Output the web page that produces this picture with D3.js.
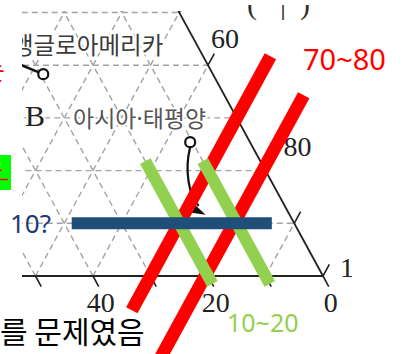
<!DOCTYPE html>
<html>
<head>
<meta charset="utf-8">
<script src="https://cdn.jsdelivr.net/npm/d3@7"></script>
<style>
  body { margin: 0; background: #fff; }
  svg { display: block; }
</style>
</head>
<body>
<div id="chart"></div>
<script>
// ternary coordinates: B = bottom axis, L = horizontal rows, R = 100 - B - L
const gridSteps = [10, 20, 30, 40, 50, 60, 70, 80, 90];
const bottomTicks = [0, 10, 20, 30, 40, 50, 60, 70, 80, 90];
const rightTicks = [10, 20, 30, 40, 50, 60, 70, 80, 90, 100];
const bottomLabels = [0, 20, 40];
const rightLabels = [60, 80, 100];

// region markers (B, L)
const regionNames = ["앵글로아메리카", ["아시아", "·", "태평양"]];
const regionB = [29.5, 10.4];
const regionL = [38.3, 25.4];
const arrowTip = [14.6, 11.6];

// hand drawn overlay marks
const redR = [70, 79.5];
const redL = [[-6.5, 41.7], [-16, 34.3]];
const greenB = [20, 10];
const greenL = [-1.5, 21.8];
const blueL = 10;
const blueB = [3.9, 38.7];

(function () {
    const width = 409, height = 354;

    const svg = d3.select("#chart").append("svg")
        .attr("width", width)
        .attr("height", height)
        .attr("viewBox", `0 0 ${width} ${height}`);

    // horizontal position in bottom-axis units, vertical in row units
    const xScale = d3.scaleLinear().domain([0, 50]).range([323, 35.5]);
    const yScale = d3.scaleLinear().domain([0, 50]).range([276, 12.5]);
    const proj = (B, L) => [xScale(B + L / 2), yScale(L)];

    const defs = svg.append("defs");
    defs.append("clipPath").attr("id", "diag-clip")
        .append("rect").attr("x", 22).attr("y", 11).attr("width", 330).attr("height", 306);
    defs.append("clipPath").attr("id", "top-clip")
        .append("rect").attr("x", 22).attr("y", 5).attr("width", 330).attr("height", 30);

    const diag = svg.append("g").attr("clip-path", "url(#diag-clip)");

    // dashed grid
    const segs = [];
    gridSteps.forEach(v => {
        segs.push([proj(100 - v, v), proj(0, v)]);
        segs.push([proj(v, 0), proj(v, 100 - v)]);
        segs.push([proj(100 - v, 0), proj(0, 100 - v)]);
    });
    diag.selectAll(".grid")
        .data(segs)
        .enter().append("line")
        .attr("class", "grid")
        .attr("x1", d => d[0][0]).attr("y1", d => d[0][1])
        .attr("x2", d => d[1][0]).attr("y2", d => d[1][1])
        .attr("stroke", "#a3a3a3")
        .attr("stroke-width", 1.4)
        .attr("stroke-dasharray", "6,4");

    // edges
    const edges = [[proj(100, 0), proj(0, 0)], [proj(0, 0), proj(0, 100)]];
    diag.selectAll(".edge")
        .data(edges)
        .enter().append("line")
        .attr("class", "edge")
        .attr("x1", d => d[0][0]).attr("y1", d => d[0][1])
        .attr("x2", d => d[1][0]).attr("y2", d => d[1][1])
        .attr("stroke", "#222")
        .attr("stroke-width", 1.8);

    // ticks
    const ticks = bottomTicks.map(b => [proj(b, 0), proj(b, -2)])
        .concat(rightTicks.map(r => [proj(0, 100 - r), proj(-2.2, 102.2 - r)]));
    diag.selectAll(".tick")
        .data(ticks)
        .enter().append("line")
        .attr("class", "tick")
        .attr("x1", d => d[0][0]).attr("y1", d => d[0][1])
        .attr("x2", d => d[1][0]).attr("y2", d => d[1][1])
        .attr("stroke", "#222")
        .attr("stroke-width", 1.6);

    diag.selectAll(".blabel")
        .data(bottomLabels)
        .enter().append("text")
        .attr("class", "blabel")
        .attr("x", d => proj(d, -2)[0] + 2)
        .attr("y", d => proj(d, -2)[1] + 25)
        .attr("text-anchor", "middle")
        .style("font", "28px 'Liberation Serif', serif")
        .attr("fill", "#222")
        .text(d => d);

    const rightDx = { 60: 3, 80: 18, 100: 17 };
    const rightDy = { 60: -17, 80: -15, 100: 1 };
    diag.selectAll(".rlabel")
        .data(rightLabels)
        .enter().append("text")
        .attr("class", "rlabel")
        .attr("x", d => proj(0, 100 - d)[0] + rightDx[d])
        .attr("y", d => proj(0, 100 - d)[1] + rightDy[d])
        .style("font", "28px 'Liberation Serif', serif")
        .attr("fill", "#222")
        .text(d => d);

    // region labels
    const halo = sel => sel
        .attr("stroke", "#fff")
        .attr("stroke-width", 4)
        .attr("paint-order", "stroke")
        .attr("stroke-linejoin", "round");

    diag.append("text")
        .attr("x", 12).attr("y", 54)
        .style("font", "23.5px 'Noto Sans CJK KR', sans-serif")
        .attr("fill", "#3a3a3a")
        .call(halo)
        .text(regionNames[0]);

    diag.append("text")
        .attr("x", 25).attr("y", 126)
        .style("font", "30px 'Liberation Serif', serif")
        .attr("fill", "#222")
        .call(halo)
        .text("B");

    const asia = diag.append("text")
        .attr("x", 73).attr("y", 127)
        .style("font", "23px 'Noto Sans CJK KR', sans-serif")
        .attr("fill", "#555")
        .call(halo);
    asia.selectAll("tspan")
        .data(regionNames[1])
        .enter().append("tspan")
        .style("font-family", (d, i) => i === 1 ? "'Noto Sans', sans-serif" : null)
        .text(d => d);

    // markers
    const p0 = proj(regionB[0], regionL[0]);
    diag.append("line")
        .attr("x1", p0[0] - 5).attr("y1", p0[1] - 2)
        .attr("x2", p0[0] - 24).attr("y2", p0[1] - 10)
        .attr("stroke", "#111").attr("stroke-width", 2.5);

    const p1 = proj(regionB[1], regionL[1]);
    const tip = proj(arrowTip[0], arrowTip[1]);
    diag.append("path")
        .attr("d", `M${p1[0]},${p1[1] + 5} C${p1[0] - 6},${p1[1] + 28} ${p1[0] - 1},${tip[1] - 18} ${tip[0] - 7},${tip[1] - 9}`)
        .attr("fill", "none")
        .attr("stroke", "#111")
        .attr("stroke-width", 2.2);
    diag.append("path")
        .attr("d", `M${tip[0] - 13},${tip[1] - 12} L${tip[0]},${tip[1]} L${tip[0] - 14},${tip[1] - 2} Z`)
        .attr("fill", "#111");

    diag.selectAll(".mark")
        .data([p0, p1])
        .enter().append("circle")
        .attr("class", "mark")
        .attr("cx", d => d[0]).attr("cy", d => d[1])
        .attr("r", 5)
        .attr("fill", "#fff")
        .attr("stroke", "#111")
        .attr("stroke-width", 2.2);

    // cut-off heading glyphs at the top
    svg.append("g").attr("clip-path", "url(#top-clip)")
        .selectAll("text")
        .data([["(", 252], ["|", 283], [")", 305]])
        .enter().append("text")
        .attr("x", d => d[1]).attr("y", 14)
        .attr("text-anchor", "middle")
        .style("font", "30px 'Liberation Serif', serif")
        .attr("fill", "#333")
        .text(d => d[0]);

    // overlays
    const overlay = svg.append("g");
    redR.forEach((r, i) => {
        const a = proj(100 - r - redL[i][0], redL[i][0]);
        const b = proj(100 - r - redL[i][1], redL[i][1]);
        overlay.append("line")
            .attr("x1", a[0]).attr("y1", a[1]).attr("x2", b[0]).attr("y2", b[1])
            .attr("stroke", "#ff0000").attr("stroke-width", 13);
    });
    greenB.forEach(b => {
        const a = proj(b, greenL[0]);
        const c = proj(b, greenL[1]);
        overlay.append("line")
            .attr("x1", a[0]).attr("y1", a[1]).attr("x2", c[0]).attr("y2", c[1])
            .attr("stroke", "#92d050").attr("stroke-width", 12);
    });
    const b0 = proj(blueB[0], blueL), b1 = proj(blueB[1], blueL);
    overlay.append("line")
        .attr("x1", b0[0]).attr("y1", b0[1]).attr("x2", b1[0]).attr("y2", b1[1])
        .attr("stroke", "#1f4e79").attr("stroke-width", 12);

    // annotation texts
    overlay.append("text")
        .attr("x", 303).attr("y", 70)
        .style("font", "29px 'Noto Sans', sans-serif")
        .attr("fill", "#ff0000")
        .text("70~80");
    overlay.append("text")
        .attr("x", 227).attr("y", 332)
        .style("font", "25px 'Noto Sans', sans-serif")
        .attr("fill", "#92d050")
        .text("10~20");
    overlay.append("text")
        .attr("x", 10).attr("y", 233)
        .style("font", "26px 'Noto Sans', sans-serif")
        .attr("fill", "#1f3a73")
        .text("10?");
    overlay.append("text")
        .attr("x", 0).attr("y", 343)
        .style("font", "30px 'Noto Sans CJK KR', sans-serif")
        .attr("fill", "#000")
        .text("를 문제였음");

    // fragments cut at the left edge
    overlay.append("text")
        .attr("x", -19).attr("y", 80)
        .style("font", "26px 'Noto Sans CJK KR', sans-serif")
        .attr("fill", "#ff0000")
        .text("는");
    overlay.append("rect")
        .attr("x", 0).attr("y", 155).attr("width", 11).attr("height", 35)
        .attr("fill", "#00ff00");
    overlay.append("text")
        .attr("x", -17).attr("y", 177)
        .style("font", "22px 'Noto Sans CJK KR', sans-serif")
        .attr("fill", "#ff0000")
        .text("은");
    overlay.append("line")
        .attr("x1", 0).attr("y1", 179.5).attr("x2", 8).attr("y2", 179.5)
        .attr("stroke", "#ff0000").attr("stroke-width", 1.5);
})();
</script>
</body>
</html>
